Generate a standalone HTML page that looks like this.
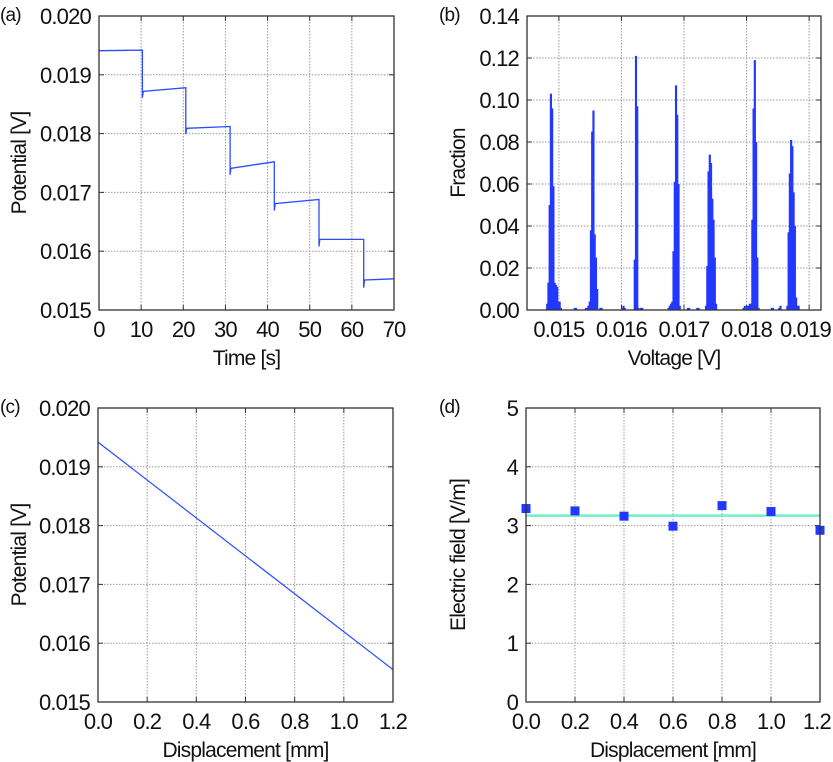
<!DOCTYPE html>
<html><head><meta charset="utf-8"><style>
body{margin:0;background:#fff}
svg{display:block;font-family:"Liberation Sans",Arial,sans-serif}
svg text{letter-spacing:-0.8px}
</style></head><body>
<svg id="fig" width="833" height="762" viewBox="0 0 833 762"></svg>
<script>
// ---- Panel (a) data ----
const aStepStart = [0, 10.3, 20.6, 31.1, 41.6, 52.2, 62.8];
const aStepEnd = [10.3, 20.6, 31.1, 41.6, 52.2, 62.8, 70.5];
const aLevelStart = [0.01941, 0.01872, 0.01809, 0.01741, 0.01681, 0.01620, 0.01551];
const aLevelEnd = [0.01942, 0.01878, 0.01812, 0.01752, 0.01688, 0.01620, 0.01553];
const aDip = [0.01941, 0.01861, 0.01799, 0.01730, 0.01669, 0.01608, 0.01538];
const aXTicks = [0,10,20,30,40,50,60,70];
const aYTicks = [0.015,0.016,0.017,0.018,0.019,0.020];
// ---- Panel (b) data ----
const bPeakStart = [0.01480, 0.01542, 0.01620, 0.01674, 0.01734, 0.01800, 0.01864];
const bPeakBins = [
 [0.003,0.013,0.050,0.103,0.096,0.059,0.013,0.012,0.011,0.004,0.004,0.001],
 [0.001,0.001,0.002,0.004,0.038,0.085,0.095,0.036,0.025,0.010],
 [0.024,0.121,0.097,0.001],
 [0.001,0.002,0.003,0.004,0.028,0.061,0.107,0.093,0.060,0.002],
 [0.002,0.021,0.066,0.074,0.070,0.053,0.043,0.025,0.003],
 [0.002,0.002,0.003,0.003,0.043,0.096,0.119,0.080,0.025,0.001],
 [0.002,0.037,0.065,0.081,0.078,0.056,0.040,0.006,0.002,0.002]
];
const bStrayX = [0.01524,0.01526,0.01565,0.01567,0.01600,0.01602,0.01604,0.01630,0.01632,0.01705,0.01707,0.01720,0.01722,0.01794,0.01796,0.01810,0.01812,0.01839,0.01841,0.01851,0.01853];
const bStrayY = [0.001,0.001,0.001,0.001,0.001,0.002,0.001,0.001,0.001,0.001,0.001,0.001,0.001,0.001,0.002,0.001,0.001,0.001,0.001,0.001,0.002];
const bBinW = 0.00002;
const bXTicks = [0.015,0.016,0.017,0.018,0.019];
const bYTicks = [0,0.02,0.04,0.06,0.08,0.10,0.12,0.14];
// ---- Panel (c) data ----
const cX = [0, 1.2];
const cY = [0.01942, 0.01555];
const cXTicks = [0,0.2,0.4,0.6,0.8,1.0,1.2];
const cYTicks = [0.015,0.016,0.017,0.018,0.019,0.020];
// ---- Panel (d) data ----
const dX = [0,0.2,0.4,0.6,0.8,1.0,1.2];
const dY = [3.29,3.25,3.16,2.99,3.34,3.24,2.92];
const dFit = [3.17];
const dXTicks = [0,0.2,0.4,0.6,0.8,1.0,1.2];
const dYTicks = [0,1,2,3,4,5];

const NS="http://www.w3.org/2000/svg";
const svg=document.getElementById('fig');
function mk(tag,attrs,parent){const e=document.createElementNS(NS,tag);for(const k in attrs)e.setAttribute(k,attrs[k]);(parent||svg).appendChild(e);return e;}
const FS=22;
function axes(name,L,R,T,B,xmin,xmax,ymin,ymax,xt,yt,xfmt,yfmt,xlabel,ylabel,letter,letterX,ylabX){
  const g=mk('g',{});
  
  
  const sx=v=>L+(v-xmin)/(xmax-xmin)*(R-L);
  const sy=v=>B-(v-ymin)/(ymax-ymin)*(B-T);
  xt.forEach(v=>{const x=sx(v);
    if(x>L+1&&x<R-1){const gl=mk('line',{x1:x,x2:x,y1:T,y2:B,stroke:'#999','stroke-width':1,'stroke-dasharray':'1.5,1.5'},g);
      }
    mk('line',{x1:x,x2:x,y1:B,y2:B-5,stroke:'#333'},g);mk('line',{x1:x,x2:x,y1:T,y2:T+5,stroke:'#333'},g);
    const t=mk('text',{x:x,y:B+27,'font-size':FS,'text-anchor':'middle',fill:'#111'},g);t.textContent=xfmt(v);
    
    const w=t.getComputedTextLength();
    if(x+w/2>831){t.setAttribute('x',831-w/2);}
  });
  yt.forEach(v=>{const y=sy(v);
    if(y>T+1&&y<B-1){const gl=mk('line',{x1:L,x2:R,y1:y,y2:y,stroke:'#999','stroke-width':1,'stroke-dasharray':'1.5,1.5'},g);
      }
    mk('line',{x1:L,x2:L+5,y1:y,y2:y,stroke:'#333'},g);mk('line',{x1:R,x2:R-5,y1:y,y2:y,stroke:'#333'},g);
    const t=mk('text',{x:L-8,y:y+8,'font-size':FS,'text-anchor':'end',fill:'#111'},g);t.textContent=yfmt(v);
    });
  const xl=mk('text',{x:(L+R)/2,y:B+55,'font-size':21,'text-anchor':'middle',fill:'#111'},g);xl.textContent=xlabel;
  
  const yl=mk('text',{x:0,y:0,'font-size':21,'text-anchor':'middle',fill:'#111',transform:`translate(${ylabX},${(T+B)/2}) rotate(-90)`},g);yl.textContent=ylabel;
  
  const lt=mk('text',{x:letterX,y:T+5,'font-size':19,fill:'#111'},g);lt.textContent=letter;
  
  return {g,sx,sy,frame:()=>{const f=mk('rect',{x:L,y:T,width:R-L,height:B-T,fill:'none',stroke:'#333','stroke-width':1.3},g);
    }};
}

// Panel a
let A=axes('panel-a-potential-vs-time',99,394,16,310,0,70,0.015,0.020,aXTicks,aYTicks,v=>String(v),v=>v.toFixed(3),'Time [s]','Potential [V]','(a)',0,26);
let pts=[];
for(let i=0;i<aStepStart.length;i++){
  pts.push([aStepStart[i],i?aDip[i]:aLevelStart[i]]);
  pts.push([aStepStart[i]+0.2,aLevelStart[i]]);
  pts.push([aStepEnd[i],aLevelEnd[i]]);
}
let pa=mk('polyline',{points:pts.map(p=>A.sx(Math.min(p[0],70)).toFixed(1)+','+A.sy(p[1]).toFixed(1)).join(' '),fill:'none',stroke:'#2a4cff','stroke-width':1.3},A.g);


A.frame();

// Panel b
let Bx=axes('panel-b-histogram',527,821,16,310,0.01449,0.01919,0,0.14,bXTicks,bYTicks,v=>v.toFixed(3),v=>v.toFixed(2),'Voltage [V]','Fraction','(b)',439,465);
bPeakStart.forEach((s,p)=>{bPeakBins[p].forEach((h,k)=>{
  const x0=Bx.sx(s+k*bBinW),x1=Bx.sx(s+(k+1)*bBinW);
  const r=mk('rect',{x:x0-0.3,y:Bx.sy(h),width:x1-x0+0.9,height:Bx.sy(0)-Bx.sy(h),fill:'#2238ff'},Bx.g);
  
  
});});
bStrayX.forEach((v,k)=>{const x0=Bx.sx(v),x1=Bx.sx(v+bBinW);
  const r=mk('rect',{x:x0-0.3,y:Bx.sy(bStrayY[k]),width:x1-x0+0.9,height:Bx.sy(0)-Bx.sy(bStrayY[k]),fill:'#2238ff'},Bx.g);
  
  });
Bx.frame();

// Panel c
let C=axes('panel-c-potential-vs-displacement',98,393,408,702,0,1.2,0.015,0.020,cXTicks,cYTicks,v=>v.toFixed(1),v=>v.toFixed(3),'Displacement [mm]','Potential [V]','(c)',0,26);
let pc=mk('polyline',{points:cX.map((x,i)=>C.sx(x)+','+C.sy(cY[i])).join(' '),fill:'none',stroke:'#2a4cff','stroke-width':1.2},C.g);


C.frame();

// Panel d
let D=axes('panel-d-electric-field',526,820,408,702,0,1.2,0,5,dXTicks,dYTicks,v=>v.toFixed(1),v=>String(v),'Displacement [mm]','Electric field [V/m]','(d)',439,465);
let fl=mk('line',{x1:D.sx(0),x2:D.sx(1.2),y1:D.sy(dFit[0]),y2:D.sy(dFit[0]),stroke:'#6ef0c8','stroke-width':2.5},D.g);


dX.forEach((x,i)=>{const m=mk('rect',{x:D.sx(x)-4.5,y:D.sy(dY[i])-4.5,width:9,height:9,fill:'#2238ff'},D.g);
  
  });
D.frame();
</script>
</body></html>
